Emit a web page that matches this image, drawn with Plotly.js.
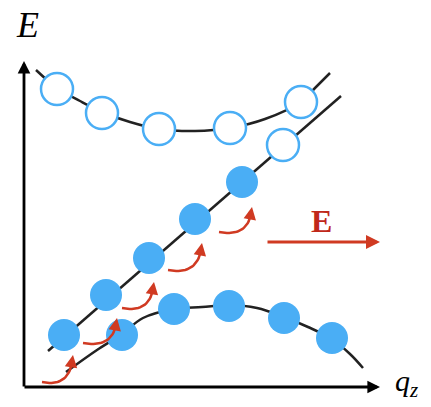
<!DOCTYPE html>
<html><head><meta charset="utf-8">
<script src="https://cdn.plot.ly/plotly-3.0.1.min.js"></script>
<style>html,body{margin:0;padding:0;background:#fff;}#chart{width:431px;height:407px;}</style>
</head><body><div id="chart"></div>
<script>
// Upper band (open circles)
const upperCurveX = [12, 33, 56, 78, 106, 135, 171, 206, 241, 277, 291, 306];
const upperCurveY = [317, 299, 286, 275, 265, 258, 256, 259, 268, 285, 299, 314];
const upperDotsX = [33, 78, 135, 206, 277];
const upperDotsY = [298, 274, 258, 259, 285];
// Diagonal (linear) band
const diagLineX = [24, 317];
const diagLineY = [36, 291];
const diagFilledX = [40, 82, 125, 171, 218];
const diagFilledY = [52, 92, 129, 168, 205];
const diagOpenX = [259];
const diagOpenY = [242];
// Lower band (filled circles)
const lowerCurveX = [42, 73, 98, 119, 150, 178, 205, 233, 260, 284, 308, 326, 339];
const lowerCurveY = [15, 37, 53, 69, 78, 80, 82, 79, 70, 60, 48, 33, 19];
const lowerDotsX = [98, 150, 205, 260, 308];
const lowerDotsY = [52, 78, 81, 69, 49];
// Red hopping arrows: start and tip
const hopStartX = [18, 59, 98, 144, 195];
const hopStartY = [5, 44, 79, 117, 155];
const hopTipX = [49, 93, 130, 178, 228];
const hopTipY = [32, 69, 105, 144, 180];
// Field arrow
const fieldX = [242, 356];
const fieldY = [145, 145];
const fieldLabel = "E";
const yLabel = "E";
const xLabel = "q";
const xSub = "z";

const blue = "#4aaef5";
const red = "#d03a22";
const traces = [];
traces.push({x: upperCurveX, y: upperCurveY, mode: "lines", line: {color: "#222", width: 2.5, shape: "spline"}, hoverinfo: "skip"});
traces.push({x: diagLineX, y: diagLineY, mode: "lines", line: {color: "#222", width: 2.5}, hoverinfo: "skip"});
traces.push({x: lowerCurveX, y: lowerCurveY, mode: "lines", line: {color: "#222", width: 2.5, shape: "spline"}, hoverinfo: "skip"});
traces.push({x: upperDotsX, y: upperDotsY, mode: "markers", marker: {size: 32, color: "#fff", line: {color: blue, width: 2.5}}});
traces.push({x: diagOpenX, y: diagOpenY, mode: "markers", marker: {size: 32, color: "#fff", line: {color: blue, width: 2.5}}});
traces.push({x: diagFilledX, y: diagFilledY, mode: "markers", marker: {size: 32, color: blue, line: {width: 0}}});
traces.push({x: lowerDotsX, y: lowerDotsY, mode: "markers", marker: {size: 32, color: blue, line: {width: 0}}});

const annotations = [];
for (let i = 0; i < hopStartX.length; i++) {
  const x0 = hopStartX[i], y0 = hopStartY[i], x2 = hopTipX[i], y2 = hopTipY[i];
  const cx = x2 - 2, cy = y0 - 6;
  const xs = [], ys = [];
  for (let k = 0; k <= 20; k++) {
    const t = k / 20 * 0.9;
    xs.push((1-t)*(1-t)*x0 + 2*(1-t)*t*cx + t*t*x2);
    ys.push((1-t)*(1-t)*y0 + 2*(1-t)*t*cy + t*t*y2);
  }
  traces.push({x: xs, y: ys, mode: "lines", line: {color: red, width: 2.5}, hoverinfo: "skip"});
  const t = 0.8;
  annotations.push({x: x2, y: y2, ax: (1-t)*(1-t)*x0 + 2*(1-t)*t*cx + t*t*x2, ay: (1-t)*(1-t)*y0 + 2*(1-t)*t*cy + t*t*y2,
    xref: "x", yref: "y", axref: "x", ayref: "y", showarrow: true, arrowhead: 2, arrowsize: 1, arrowwidth: 2.5, arrowcolor: red, standoff: 0, text: ""});
}
// axes arrows
annotations.push({x: 0, y: 326, ax: 0, ay: -1, xref: "x", yref: "y", axref: "x", ayref: "y", showarrow: true, arrowhead: 2, arrowsize: 0.9, arrowwidth: 2.8, arrowcolor: "#000", standoff: 0, text: ""});
annotations.push({x: 356, y: 0, ax: -1, ay: 0, xref: "x", yref: "y", axref: "x", ayref: "y", showarrow: true, arrowhead: 2, arrowsize: 0.9, arrowwidth: 2.8, arrowcolor: "#000", standoff: 0, text: ""});
// field arrow
annotations.push({x: fieldX[1], y: fieldY[1], ax: fieldX[0], ay: fieldY[0], xref: "x", yref: "y", axref: "x", ayref: "y", showarrow: true, arrowhead: 2, arrowsize: 1, arrowwidth: 2.8, arrowcolor: red, standoff: 0, text: ""});
annotations.push({x: 297, y: 166, xref: "x", yref: "y", showarrow: false, text: "<b>" + fieldLabel + "</b>", font: {family: "Liberation Serif, serif", size: 32, color: "#c0281a"}});
annotations.push({x: 3, y: 362, xref: "x", yref: "y", showarrow: false, text: "<i>" + yLabel + "</i>", font: {family: "Liberation Serif, serif", size: 36, color: "#000"}});
annotations.push({x: 382, y: 4, xref: "x", yref: "y", showarrow: false, text: "<i>" + xLabel + "</i><sub><i>" + xSub + "</i></sub>", font: {family: "Liberation Serif, serif", size: 30, color: "#000"}});

const layout = {
  width: 431, height: 407, margin: {l: 0, r: 0, t: 0, b: 0},
  paper_bgcolor: "#fff", plot_bgcolor: "#fff", showlegend: false,
  xaxis: {range: [-24, 407], visible: false, fixedrange: true},
  yaxis: {range: [-20, 387], visible: false, fixedrange: true},
  annotations: annotations
};
Plotly.newPlot("chart", traces, layout, {displayModeBar: false, staticPlot: true});
</script></body></html>
